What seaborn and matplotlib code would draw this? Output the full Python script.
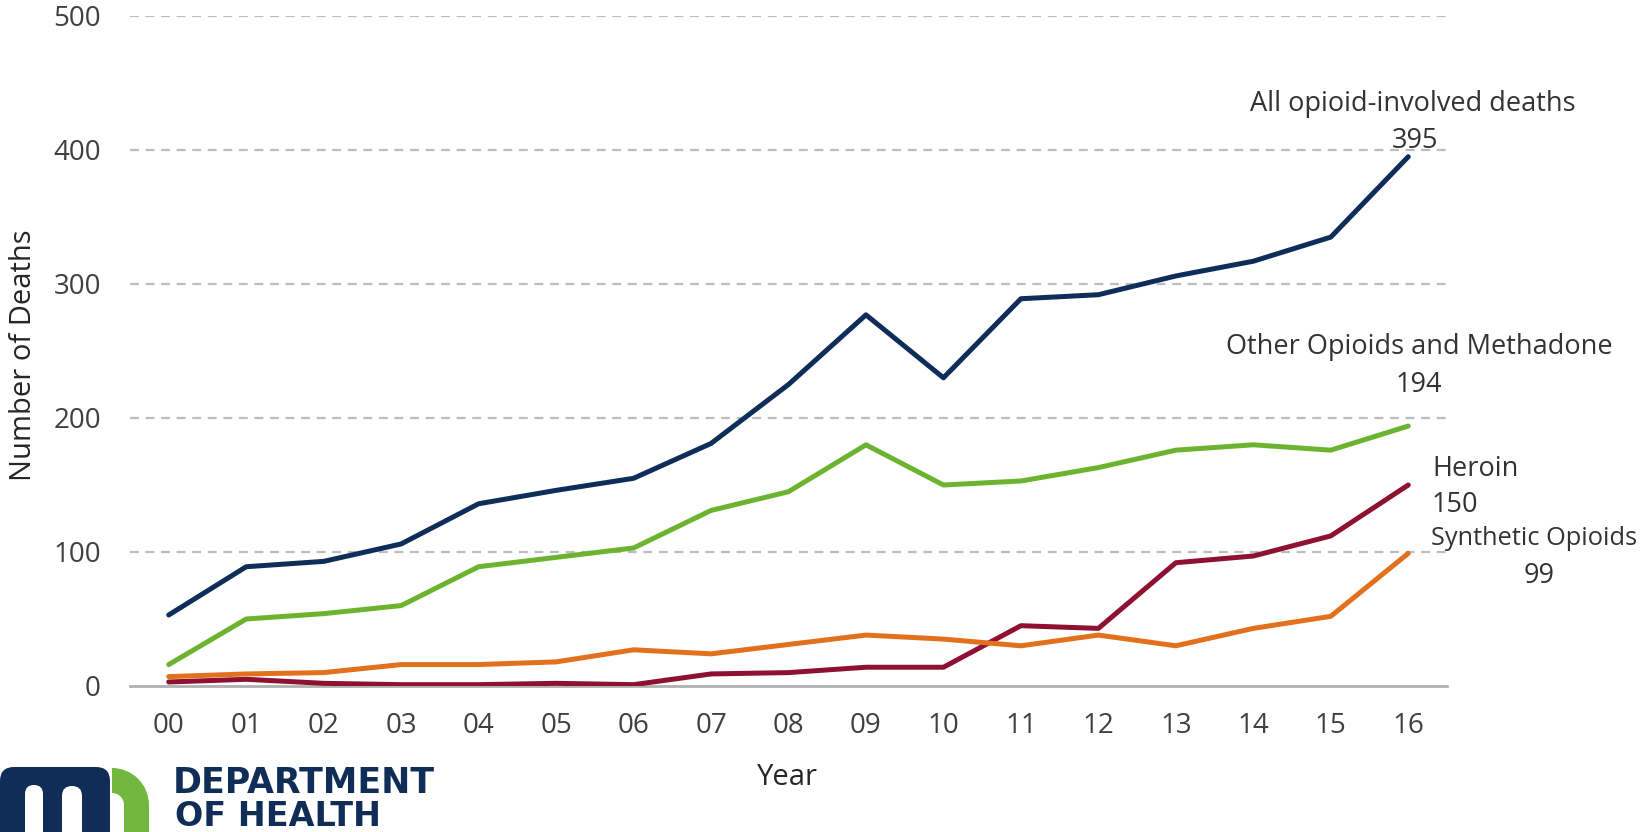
import numpy as np
import pandas as pd
import seaborn as sns
import matplotlib.pyplot as plt
from matplotlib.patches import FancyBboxPatch, Wedge, Rectangle

# data
years = ['00', '01', '02', '03', '04', '05', '06', '07', '08',
         '09', '10', '11', '12', '13', '14', '15', '16']
all_opioid = [53, 89, 93, 106, 136, 146, 155, 181, 225, 277, 230, 289, 292, 306, 317, 335, 395]
other_meth = [16, 50, 54, 60, 89, 96, 103, 131, 145, 180, 150, 153, 163, 176, 180, 176, 194]
heroin = [3, 5, 2, 1, 1, 2, 1, 9, 10, 14, 14, 45, 43, 92, 97, 112, 150]
synthetic = [7, 9, 10, 16, 16, 18, 27, 24, 31, 38, 35, 30, 38, 30, 43, 52, 99]

series = ['All opioid-involved deaths', 'Other Opioids and Methadone', 'Heroin', 'Synthetic Opioids']
colors = ['#0e2d59', '#6cb42f', '#8e1131', '#e2711d']

df = pd.DataFrame({
    'x': list(range(len(years))) * 4,
    'deaths': all_opioid + other_meth + heroin + synthetic,
    'series': np.repeat(series, len(years)),
})

sns.set_style('white')
plt.rcParams['font.family'] = ['Open Sans', 'DejaVu Sans']

fig = plt.figure(figsize=(16.46, 8.32), dpi=100)
ax = fig.add_axes([130 / 1646, 1 - 686 / 832, 1317 / 1646, 670 / 832])

sns.lineplot(data=df, x='x', y='deaths', hue='series', palette=colors,
             linewidth=3.6, legend=False, ax=ax, zorder=3)

ax.set_xlim(-0.5, 16.5)
ax.set_ylim(0, 500)
ax.set_yticks([0, 100, 200, 300, 400, 500])
for y in [100, 200, 300, 400, 500]:
    ax.axhline(y, color='#bdbdbd', lw=1.6, ls=(0, (4, 3)), zorder=1)

ax.set_xticks(range(len(years)))
ax.set_xticklabels(years)
ax.set_xticks(np.arange(-0.5, 17, 1), minor=True)
ax.tick_params(axis='x', which='major', length=0, pad=19, labelsize=20, labelcolor='#404040')
ax.tick_params(axis='x', which='minor', length=8, width=1.5, color='#b0b0b0', direction='out')
ax.tick_params(axis='y', length=0, pad=21, labelsize=20, labelcolor='#404040')

for s in ['top', 'right', 'left']:
    ax.spines[s].set_visible(False)
ax.spines['bottom'].set_color('#b0b0b0')
ax.spines['bottom'].set_linewidth(2)

ax.set_xlabel('Year', fontsize=21, color='#262626')
ax.set_ylabel('Number of Deaths', fontsize=21, color='#262626')
ax.xaxis.set_label_coords(0.499, -0.137)
ax.xaxis.label.set_va('center')
ax.yaxis.set_label_coords(-0.0805, 0.494)
ax.yaxis.label.set_va('center')

# end labels
txt = dict(color='#333333', clip_on=False, va='center')
ax.text(16.06, 434, 'All opioid-involved deaths', ha='center', fontsize=19.5, **txt)
ax.text(16.09, 407, '395', ha='center', fontsize=19.5, **txt)
ax.text(16.14, 253, 'Other Opioids and Methadone', ha='center', fontsize=19.5, **txt)
ax.text(16.14, 225, '194', ha='center', fontsize=19.5, **txt)
ax.text(16.31, 162, 'Heroin', ha='left', fontsize=19.5, **txt)
ax.text(16.60, 135, '150', ha='center', fontsize=19.5, **txt)
ax.text(16.29, 110, 'Synthetic Opioids', ha='left', fontsize=18.3, **txt)
ax.text(17.69, 82, '99', ha='center', fontsize=19.5, **txt)

# MN Department of Health logo
navy = '#0f2d57'
lg = fig.add_axes([0, 0, 160 / 1646, 70 / 832])
lg.set_xlim(0, 160)
lg.set_ylim(0, 70)
lg.axis('off')
lg.add_patch(FancyBboxPatch((0, -30), 110, 95, boxstyle='round,pad=0,rounding_size=14', fc=navy, ec='none'))
lg.add_patch(FancyBboxPatch((25, -30), 18, 77, boxstyle='round,pad=0,rounding_size=9', fc='white', ec='none'))
lg.add_patch(FancyBboxPatch((62, -30), 20, 76, boxstyle='round,pad=0,rounding_size=10', fc='white', ec='none'))
lg.add_patch(Wedge((112, 27), 37, 0, 90, width=25, fc='#72b840', ec='none'))
lg.add_patch(Rectangle((124, -5), 25, 32, fc='#72b840', ec='none'))

fig.text(173 / 1646, 1 - 793 / 832, 'DEPARTMENT', fontsize=25, weight='bold',
         color=navy, family='DejaVu Sans', va='baseline')
fig.text(175 / 1646, 1 - 826 / 832, 'OF HEALTH', fontsize=24, weight='bold',
         color=navy, family='DejaVu Sans', va='baseline')

fig.savefig('out.png', dpi=100, facecolor='white')
